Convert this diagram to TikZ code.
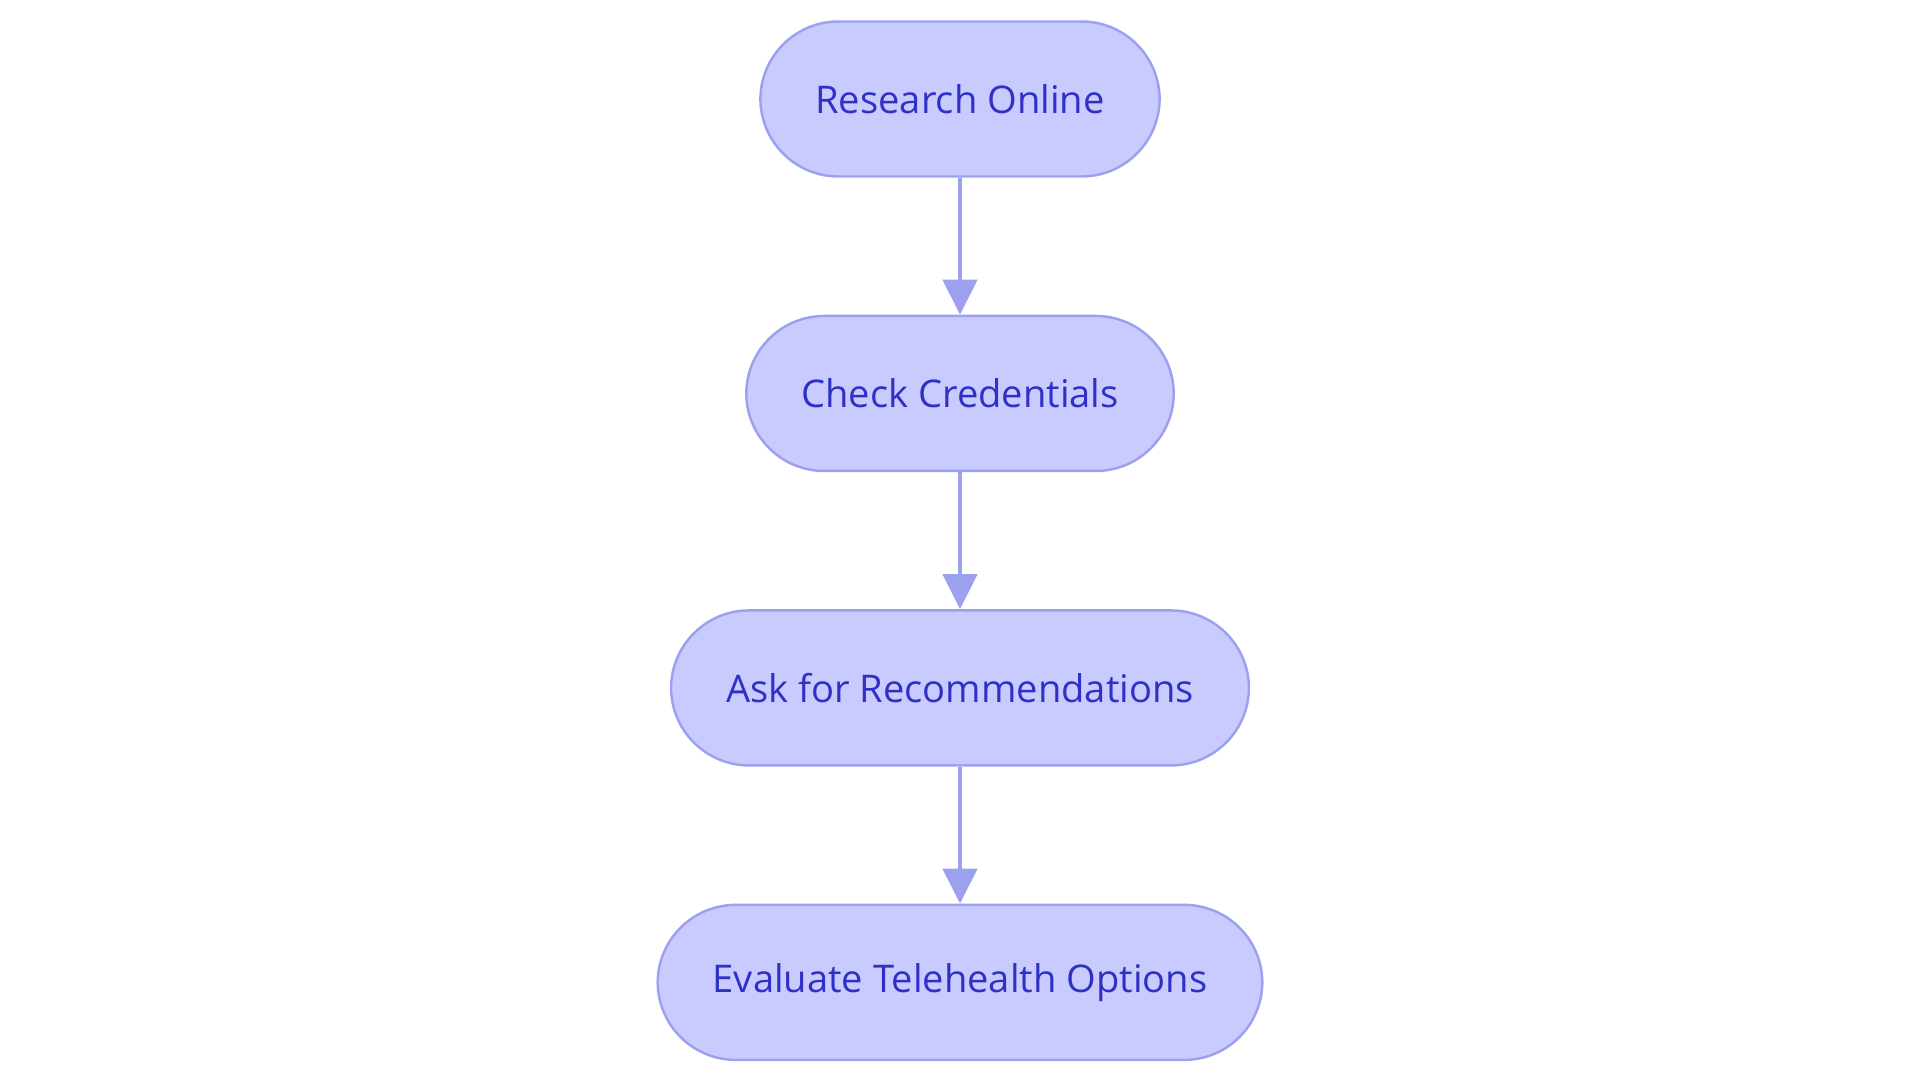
\documentclass[tikz,border=0pt]{standalone}
\usepackage{fontspec}
\setmainfont{Open Sans}
\usetikzlibrary{positioning,arrows.meta}
\definecolor{stepfill}{HTML}{C9CBFE}
\definecolor{stepline}{HTML}{9CA1EF}
\definecolor{steptext}{HTML}{2F30C6}
\tikzset{
  stepbox/.style={draw=stepline, line width=1.4pt, fill=stepfill, text=steptext,
    rounded corners=1.56cm, minimum height=3.1cm, inner xsep=1.1cm,
    font=\fontsize{21.7}{26}\selectfont},
  steparrow/.style={draw=stepline, line width=2.6pt, -{Triangle[width=0.68cm,length=0.7cm]}}
}
\begin{document}
\begin{tikzpicture}[node distance=2.74cm]
\useasboundingbox (0,0) rectangle (38.4,-21.66);
\node [stepbox] (research) at (19.2,-1.98) {Research Online};
\node [stepbox, below=of research] (check) {Check Credentials};
\node [stepbox, below=of check] (ask) {Ask for Recommendations};
\node [stepbox, below=of ask] (evaluate) {Evaluate Telehealth Options};
\draw [steparrow] (research) -- (check);
\draw [steparrow] (check) -- (ask);
\draw [steparrow] (ask) -- (evaluate);
\end{tikzpicture}
\end{document}
